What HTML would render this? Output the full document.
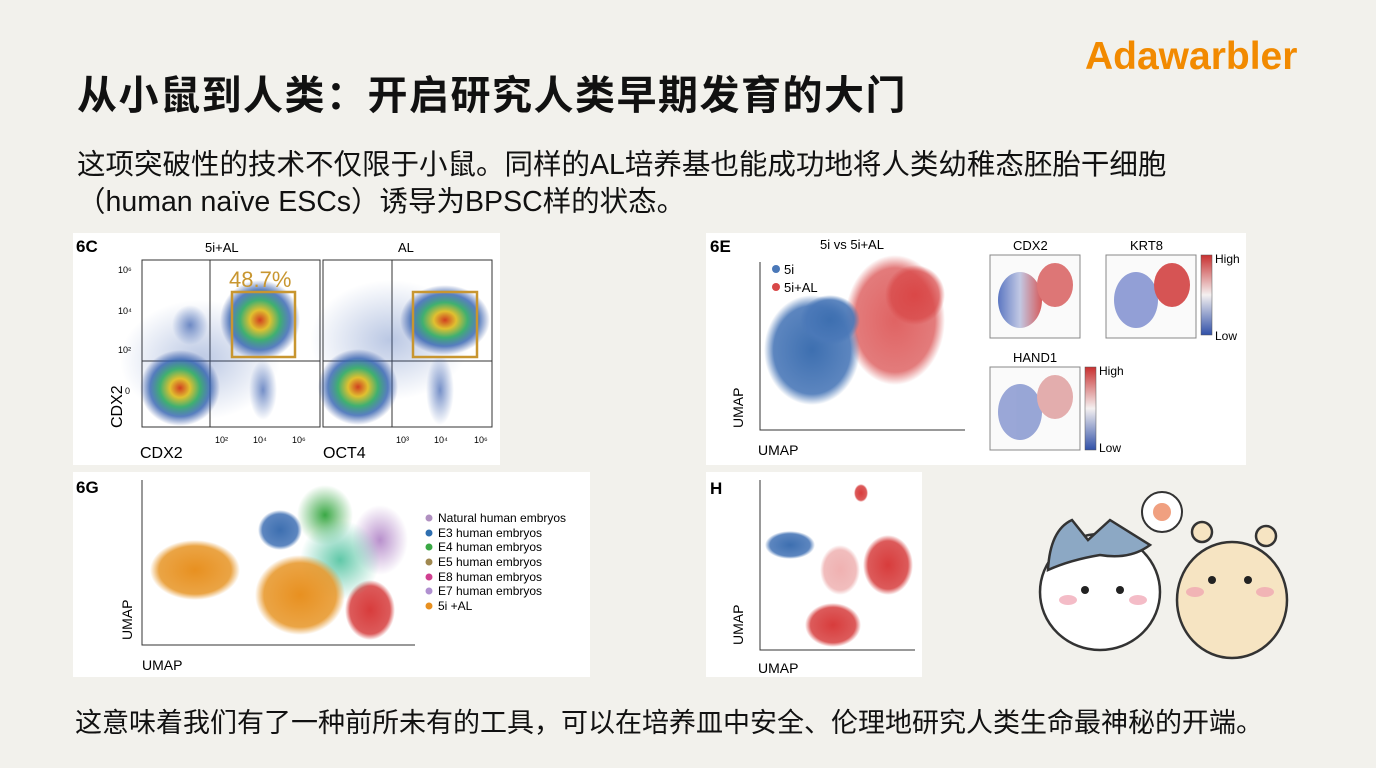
<!DOCTYPE html>
<html><head><meta charset="utf-8"><style>
body{margin:0;width:1376px;height:768px;background:#f2f1ec;position:relative;overflow:hidden;font-family:"Liberation Sans","Noto Sans CJK SC",sans-serif;color:#111}
.t{position:absolute;white-space:nowrap}
</style></head><body>
<div class="t" style="left:77px;top:63px;font-size:40px;font-weight:bold;letter-spacing:1.5px">从小鼠到人类：开启研究人类早期发育的大门</div>
<div class="t" style="left:1085px;top:35px;font-size:39px;font-weight:bold;color:#f28a00">Adawarbler</div>
<div class="t" style="left:77px;top:142px;font-size:28.5px">这项突破性的技术不仅限于小鼠。同样的AL培养基也能成功地将人类幼稚态胚胎干细胞</div>
<div class="t" style="left:77px;top:179px;font-size:28.5px">（human naïve ESCs）诱导为BPSC样的状态。</div>
<div class="t" style="left:75px;top:701px;font-size:27px">这意味着我们有了一种前所未有的工具，可以在培养皿中安全、伦理地研究人类生命最神秘的开端。</div>
<svg width="1376" height="768" style="position:absolute;left:0;top:0" font-family="Liberation Sans, sans-serif">
<defs>
<radialGradient id="fc"><stop offset="0" stop-color="#d04020"/><stop offset=".25" stop-color="#e0c030"/><stop offset=".5" stop-color="#40b070"/><stop offset=".75" stop-color="#3060b0" stop-opacity=".8"/><stop offset="1" stop-color="#3050a0" stop-opacity="0"/></radialGradient>
<radialGradient id="fb"><stop offset="0" stop-color="#3a60b0" stop-opacity=".7"/><stop offset="1" stop-color="#3a60b0" stop-opacity="0"/></radialGradient>
<radialGradient id="bl"><stop offset="0" stop-color="#3d6fb0"/><stop offset=".8" stop-color="#4a78b8" stop-opacity=".9"/><stop offset="1" stop-color="#4a78b8" stop-opacity="0"/></radialGradient>
<radialGradient id="rd"><stop offset="0" stop-color="#d83c3c"/><stop offset=".8" stop-color="#d84848" stop-opacity=".9"/><stop offset="1" stop-color="#d84848" stop-opacity="0"/></radialGradient>
<radialGradient id="or"><stop offset="0" stop-color="#e89020"/><stop offset=".8" stop-color="#e89a30" stop-opacity=".9"/><stop offset="1" stop-color="#e89a30" stop-opacity="0"/></radialGradient>
<radialGradient id="gr"><stop offset="0" stop-color="#3aa845"/><stop offset="1" stop-color="#3aa845" stop-opacity="0"/></radialGradient>
<radialGradient id="tq"><stop offset="0" stop-color="#60c8a8"/><stop offset="1" stop-color="#60c8a8" stop-opacity="0"/></radialGradient>
<radialGradient id="pu"><stop offset="0" stop-color="#b890cc"/><stop offset="1" stop-color="#b890cc" stop-opacity="0"/></radialGradient>
<linearGradient id="cb" x1="0" y1="0" x2="0" y2="1"><stop offset="0" stop-color="#c83030"/><stop offset=".5" stop-color="#f4f0f0"/><stop offset="1" stop-color="#3050a8"/></linearGradient>
<linearGradient id="mp" x1="0" y1="0" x2="1" y2="0"><stop offset="0" stop-color="#4060b8"/><stop offset=".5" stop-color="#b8c0e0"/><stop offset="1" stop-color="#d04040"/></linearGradient>
</defs>
<rect x="73" y="233" width="427" height="232" fill="#fff"/>
<text x="76" y="252" font-size="17" font-weight="bold">6C</text>
<text x="205" y="252" font-size="13">5i+AL</text><text x="398" y="252" font-size="13">AL</text>
<g font-size="9"><text x="118" y="273">10⁶</text><text x="118" y="314">10⁴</text><text x="118" y="353">10²</text><text x="125" y="394">0</text>
<text x="215" y="443">10²</text><text x="253" y="443">10⁴</text><text x="292" y="443">10⁶</text>
<text x="396" y="443">10³</text><text x="434" y="443">10⁴</text><text x="474" y="443">10⁶</text></g>
<text x="122" y="428" font-size="16" transform="rotate(-90 122 428)">CDX2</text>
<text x="140" y="458" font-size="16">CDX2</text><text x="323" y="458" font-size="16">OCT4</text>
<g fill="none" stroke="#333" stroke-width="1"><rect x="142" y="260" width="178" height="167"/><rect x="323" y="260" width="169" height="167"/>
<line x1="210" y1="260" x2="210" y2="427"/><line x1="142" y1="361" x2="320" y2="361"/>
<line x1="392" y1="260" x2="392" y2="427"/><line x1="323" y1="361" x2="492" y2="361"/></g>
<ellipse cx="200" cy="360" rx="80" ry="60" fill="url(#fb)" opacity=".5"/>
<ellipse cx="180" cy="388" rx="40" ry="38" fill="url(#fc)"/>
<ellipse cx="260" cy="320" rx="40" ry="40" fill="url(#fc)"/>
<ellipse cx="263" cy="390" rx="14" ry="30" fill="url(#fb)"/>
<ellipse cx="190" cy="325" rx="18" ry="20" fill="url(#fb)"/>
<ellipse cx="390" cy="340" rx="80" ry="60" fill="url(#fb)" opacity=".5"/>
<ellipse cx="358" cy="387" rx="40" ry="38" fill="url(#fc)"/>
<ellipse cx="445" cy="320" rx="45" ry="35" fill="url(#fc)"/>
<ellipse cx="440" cy="390" rx="14" ry="35" fill="url(#fb)"/>
<rect x="232" y="292" width="63" height="65" fill="none" stroke="#c89630" stroke-width="2.5"/>
<rect x="413" y="292" width="64" height="65" fill="none" stroke="#c89630" stroke-width="2.5"/>
<text x="229" y="287" font-size="22" fill="#c89630">48.7%</text>
<rect x="706" y="233" width="540" height="232" fill="#fff"/>
<text x="710" y="252" font-size="17" font-weight="bold">6E</text>
<text x="820" y="249" font-size="13">5i vs 5i+AL</text>
<circle cx="776" cy="269" r="4" fill="#4a78b8"/><text x="784" y="274" font-size="13">5i</text>
<circle cx="776" cy="287" r="4" fill="#d84848"/><text x="784" y="292" font-size="13">5i+AL</text>
<path d="M760 262V430H965" fill="none" stroke="#333"/>
<ellipse cx="895" cy="320" rx="50" ry="65" fill="url(#rd)" opacity=".8"/>
<ellipse cx="915" cy="295" rx="30" ry="30" fill="url(#rd)" opacity=".8"/>
<ellipse cx="812" cy="350" rx="48" ry="55" fill="url(#bl)"/>
<ellipse cx="830" cy="320" rx="30" ry="25" fill="url(#bl)"/>
<text x="743" y="428" font-size="14" transform="rotate(-90 743 428)">UMAP</text>
<text x="758" y="455" font-size="14">UMAP</text>
<g stroke="#888" fill="#fafafa"><rect x="990" y="255" width="90" height="83"/><rect x="1106" y="255" width="90" height="83"/><rect x="990" y="367" width="90" height="83"/></g>
<g opacity=".85"><ellipse cx="1020" cy="300" rx="22" ry="28" fill="url(#mp)"/><ellipse cx="1055" cy="285" rx="18" ry="22" fill="#d86060"/>
<ellipse cx="1136" cy="300" rx="22" ry="28" fill="#8090d0"/><ellipse cx="1172" cy="285" rx="18" ry="22" fill="#d03838"/>
<ellipse cx="1020" cy="412" rx="22" ry="28" fill="#8898d0"/><ellipse cx="1055" cy="397" rx="18" ry="22" fill="#e0a0a0"/></g>
<text x="1013" y="250" font-size="13">CDX2</text><text x="1130" y="250" font-size="13">KRT8</text><text x="1013" y="362" font-size="13">HAND1</text>
<rect x="1201" y="255" width="11" height="80" fill="url(#cb)" stroke="#555" stroke-width=".5"/>
<rect x="1085" y="367" width="11" height="83" fill="url(#cb)" stroke="#555" stroke-width=".5"/>
<g font-size="12"><text x="1215" y="263">High</text><text x="1215" y="340">Low</text><text x="1099" y="375">High</text><text x="1099" y="452">Low</text></g>
<rect x="73" y="472" width="517" height="205" fill="#fff"/>
<text x="76" y="493" font-size="17" font-weight="bold">6G</text>
<path d="M142 480V645H415" fill="none" stroke="#333"/>
<ellipse cx="195" cy="570" rx="45" ry="30" fill="url(#or)"/>
<ellipse cx="370" cy="610" rx="25" ry="30" fill="url(#rd)"/>
<ellipse cx="380" cy="540" rx="28" ry="35" fill="url(#pu)"/>
<ellipse cx="325" cy="515" rx="28" ry="30" fill="url(#gr)"/>
<ellipse cx="340" cy="560" rx="40" ry="40" fill="url(#tq)"/>
<ellipse cx="280" cy="530" rx="22" ry="20" fill="url(#bl)"/>
<ellipse cx="300" cy="595" rx="45" ry="40" fill="url(#or)"/>
<g font-size="12"><circle cx="429" cy="518" r="3.5" fill="#b090c0"/><text x="438" y="522">Natural human embryos</text>
<circle cx="429" cy="533" r="3.5" fill="#2f6fb0"/><text x="438" y="537">E3 human embryos</text>
<circle cx="429" cy="547" r="3.5" fill="#3aa845"/><text x="438" y="551">E4 human embryos</text>
<circle cx="429" cy="562" r="3.5" fill="#a08850"/><text x="438" y="566">E5 human embryos</text>
<circle cx="429" cy="577" r="3.5" fill="#d04090"/><text x="438" y="581">E8 human embryos</text>
<circle cx="429" cy="591" r="3.5" fill="#b090d0"/><text x="438" y="595">E7 human embryos</text>
<circle cx="429" cy="606" r="3.5" fill="#e89020"/><text x="438" y="610">5i +AL</text></g>
<text x="132" y="640" font-size="14" transform="rotate(-90 132 640)">UMAP</text>
<text x="142" y="670" font-size="14">UMAP</text>
<rect x="706" y="472" width="216" height="205" fill="#fff"/>
<text x="710" y="494" font-size="17" font-weight="bold">H</text>
<path d="M760 480V650H915" fill="none" stroke="#333"/>
<ellipse cx="790" cy="545" rx="25" ry="14" fill="url(#bl)"/>
<ellipse cx="888" cy="565" rx="25" ry="30" fill="url(#rd)"/>
<ellipse cx="833" cy="625" rx="28" ry="22" fill="url(#rd)"/>
<ellipse cx="861" cy="493" rx="7" ry="9" fill="url(#rd)"/>
<ellipse cx="840" cy="570" rx="20" ry="25" fill="url(#rd)" opacity=".4"/>
<text x="743" y="645" font-size="14" transform="rotate(-90 743 645)">UMAP</text>
<text x="758" y="673" font-size="14">UMAP</text>
<g stroke="#333" stroke-width="2.5">
<ellipse cx="1232" cy="600" rx="55" ry="58" fill="#f6e4c2"/>
<circle cx="1202" cy="532" r="10" fill="#f6e4c2"/><circle cx="1266" cy="536" r="10" fill="#f6e4c2"/>
<ellipse cx="1100" cy="592" rx="60" ry="58" fill="#fff"/>
<path d="M1048 570 Q1050 530 1072 520 L1088 540 L1110 520 L1150 545 Q1130 560 1100 555 Q1070 560 1048 570Z" fill="#8ca8c4"/>
<circle cx="1162" cy="512" r="20" fill="#fff" stroke-width="2"/>
</g>
<circle cx="1162" cy="512" r="9" fill="#f0a080"/>
<g fill="#222"><circle cx="1085" cy="590" r="4"/><circle cx="1120" cy="590" r="4"/><circle cx="1212" cy="580" r="4"/><circle cx="1248" cy="580" r="4"/></g>
<g fill="#f0a0b0" opacity=".7"><ellipse cx="1068" cy="600" rx="9" ry="5"/><ellipse cx="1138" cy="600" rx="9" ry="5"/><ellipse cx="1195" cy="592" rx="9" ry="5"/><ellipse cx="1265" cy="592" rx="9" ry="5"/></g>
</svg>
</body></html>
